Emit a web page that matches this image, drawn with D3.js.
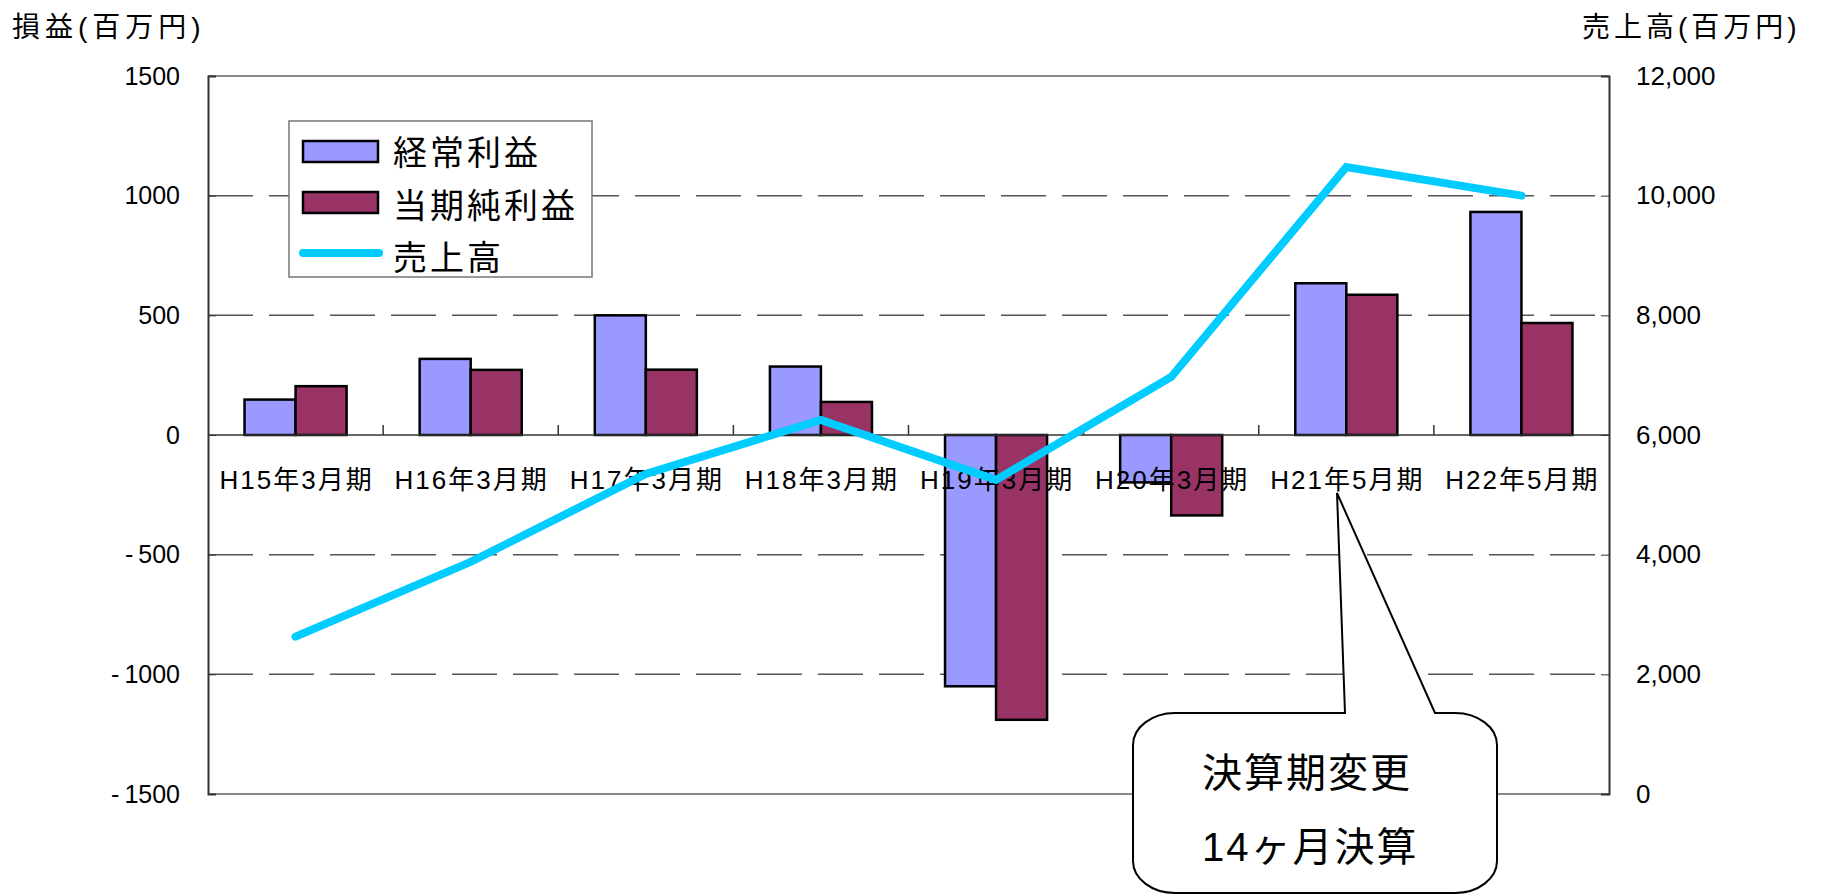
<!DOCTYPE html>
<html>
<head>
<meta charset="utf-8">
<script src="https://cdn.jsdelivr.net/npm/d3@7"></script>
<style>
  body { margin: 0; background: #fff; }
  svg { display: block; font-family: "Liberation Sans", Arial, "Noto Sans CJK JP", sans-serif; }
</style>
</head>
<body>
<svg></svg>
<script>
const width = 1822;
const height = 894;

const categories = ["H15年3月期", "H16年3月期", "H17年3月期", "H18年3月期", "H19年3月期", "H20年3月期", "H21年5月期", "H22年5月期"];
const ordinaryProfit = [148, 318, 500, 286, -1050, -198, 634, 932];
const netProfit = [204, 272, 273, 138, -1190, -336, 586, 468];
const sales = [2630, 3880, 5350, 6250, 5250, 6970, 10480, 10000];
const leftTicks = [-1500, -1000, -500, 0, 500, 1000, 1500];
const rightTicks = [0, 2000, 4000, 6000, 8000, 10000, 12000];
const seriesNames = ["経常利益", "当期純利益", "売上高"];
const calloutLines = ["決算期変更", "14ヶ月決算"];

const plot = { left: 208, right: 1609, top: 76, bottom: 794 };
const colors = { ordinary: "#9999ff", net: "#993366", sales: "#00ccff" };

const svg = d3.select("svg").attr("width", width).attr("height", height);

const x0 = d3.scaleBand().domain(categories).range([plot.left, plot.right]);
const x1 = d3.scaleBand().domain(["ordinary", "net"]).range([0, x0.bandwidth()]).paddingOuter(0.716);
const yLeft = d3.scaleLinear().domain([-1500, 1500]).range([plot.bottom, plot.top]);
const yRight = d3.scaleLinear().domain([0, 12000]).range([plot.bottom, plot.top]);

// plot border (top / bottom)
svg.append("line").attr("x1", plot.left).attr("x2", plot.right).attr("y1", plot.top).attr("y2", plot.top)
  .attr("stroke", "#888").attr("stroke-width", 2);
svg.append("line").attr("x1", plot.left).attr("x2", plot.right).attr("y1", plot.bottom).attr("y2", plot.bottom)
  .attr("stroke", "#888").attr("stroke-width", 2);

// dashed grid
svg.append("g").selectAll("line")
  .data(leftTicks.filter(d => d !== 0 && Math.abs(d) !== 1500))
  .enter().append("line")
  .attr("x1", plot.left).attr("x2", plot.right)
  .attr("y1", d => yLeft(d)).attr("y2", d => yLeft(d))
  .attr("stroke", "#555").attr("stroke-width", 1.5)
  .attr("stroke-dasharray", "45 16");

// bars
const rows = categories.map((c, i) => ({ cat: c, ordinary: ordinaryProfit[i], net: netProfit[i] }));
const groups = svg.append("g").selectAll("g")
  .data(rows).enter().append("g")
  .attr("transform", d => `translate(${x0(d.cat)},0)`);
groups.selectAll("rect")
  .data(d => ["ordinary", "net"].map(k => ({ key: k, value: d[k] })))
  .enter().append("rect")
  .attr("x", d => x1(d.key))
  .attr("width", x1.bandwidth())
  .attr("y", d => yLeft(Math.max(0, d.value)))
  .attr("height", d => Math.abs(yLeft(d.value) - yLeft(0)))
  .attr("fill", d => colors[d.key])
  .attr("stroke", "#000").attr("stroke-width", 2.5);

// zero axis with category ticks
svg.append("line").attr("x1", plot.left).attr("x2", plot.right).attr("y1", yLeft(0)).attr("y2", yLeft(0))
  .attr("stroke", "#333").attr("stroke-width", 1.5);
svg.append("g").selectAll("line")
  .data(categories.slice(1)).enter().append("line")
  .attr("x1", d => x0(d)).attr("x2", d => x0(d))
  .attr("y1", yLeft(0)).attr("y2", yLeft(0) - 10)
  .attr("stroke", "#333").attr("stroke-width", 1.5);

// left and right axes
svg.append("g")
  .attr("transform", `translate(${plot.left},0)`)
  .call(d3.axisLeft(yLeft).tickValues(leftTicks).tickSize(-8).tickPadding(28)
    .tickFormat(d => d < 0 ? "-\u2009" + Math.abs(d) : String(d)))
  .call(g => g.select(".domain").attr("stroke", "#333").attr("stroke-width", 2))
  .call(g => g.selectAll(".tick line").attr("stroke", "#333"))
  .call(g => g.selectAll("text").attr("font-size", 25).attr("fill", "#000"));

svg.append("g")
  .attr("transform", `translate(${plot.right},0)`)
  .call(d3.axisRight(yRight).tickValues(rightTicks).tickSize(-8).tickPadding(27).tickFormat(d3.format(",")))
  .call(g => g.select(".domain").attr("stroke", "#333").attr("stroke-width", 2))
  .call(g => g.selectAll(".tick line").attr("stroke", "#333"))
  .call(g => g.selectAll("text").attr("font-size", 26).attr("fill", "#000"));

// category labels
svg.append("g").selectAll("text")
  .data(categories).enter().append("text")
  .attr("x", d => x0(d) + x0.bandwidth() / 2 + 1)
  .attr("y", 489)
  .attr("text-anchor", "middle")
  .attr("font-size", 26)
  .attr("letter-spacing", 2)
  .text(d => d);

// sales line
const line = d3.line()
  .x((d, i) => x0(categories[i]) + x0.bandwidth() / 2)
  .y(d => yRight(d));
svg.append("path")
  .datum(sales)
  .attr("d", line)
  .attr("fill", "none")
  .attr("stroke", colors.sales)
  .attr("stroke-width", 8)
  .attr("stroke-linecap", "round")
  .attr("stroke-linejoin", "miter");

// axis titles
svg.append("text").attr("x", 12).attr("y", 37).attr("font-size", 28).attr("letter-spacing", 5).text("損益(百万円)");
svg.append("text").attr("x", 1582).attr("y", 37).attr("font-size", 28).attr("letter-spacing", 4).text("売上高(百万円)");

// legend
const legend = svg.append("g").attr("id", "legend");
legend.append("rect").attr("x", 289).attr("y", 121).attr("width", 303).attr("height", 156)
  .attr("fill", "#fff").attr("stroke", "#777").attr("stroke-width", 1.5);
legend.append("rect").attr("x", 303).attr("y", 141).attr("width", 75).attr("height", 21)
  .attr("fill", colors.ordinary).attr("stroke", "#000").attr("stroke-width", 2.5);
legend.append("rect").attr("x", 303).attr("y", 192).attr("width", 75).attr("height", 21)
  .attr("fill", colors.net).attr("stroke", "#000").attr("stroke-width", 2.5);
legend.append("line").attr("x1", 303).attr("x2", 379).attr("y1", 253).attr("y2", 253)
  .attr("stroke", colors.sales).attr("stroke-width", 8).attr("stroke-linecap", "round");
legend.selectAll("text.legend")
  .data(seriesNames).enter().append("text")
  .attr("class", "legend")
  .attr("x", 393)
  .attr("y", (d, i) => 165 + i * 52.5)
  .attr("font-size", 34)
  .attr("letter-spacing", 3)
  .text(d => d);

// callout
const bx0 = 1133, bx1 = 1497, by0 = 713, by1 = 893, rx = 42, ry = 32;
const p = d3.path();
p.moveTo(bx0 + rx, by0);
p.lineTo(1345, by0);
p.lineTo(1337, 493);
p.lineTo(1435, by0);
p.lineTo(bx1 - rx, by0);
p.bezierCurveTo(bx1 - rx * 0.45, by0, bx1, by0 + ry * 0.45, bx1, by0 + ry);
p.lineTo(bx1, by1 - ry);
p.bezierCurveTo(bx1, by1 - ry * 0.45, bx1 - rx * 0.45, by1, bx1 - rx, by1);
p.lineTo(bx0 + rx, by1);
p.bezierCurveTo(bx0 + rx * 0.45, by1, bx0, by1 - ry * 0.45, bx0, by1 - ry);
p.lineTo(bx0, by0 + ry);
p.bezierCurveTo(bx0, by0 + ry * 0.45, bx0 + rx * 0.45, by0, bx0 + rx, by0);
p.closePath();
svg.append("path").attr("d", p.toString()).attr("fill", "#fff").attr("stroke", "#000").attr("stroke-width", 2);

svg.selectAll("text.callout")
  .data(calloutLines).enter().append("text")
  .attr("class", "callout")
  .attr("x", 1202)
  .attr("y", (d, i) => 787 + i * 74)
  .attr("font-size", 40)
  .attr("letter-spacing", 2)
  .text(d => d);
</script>
</body>
</html>
